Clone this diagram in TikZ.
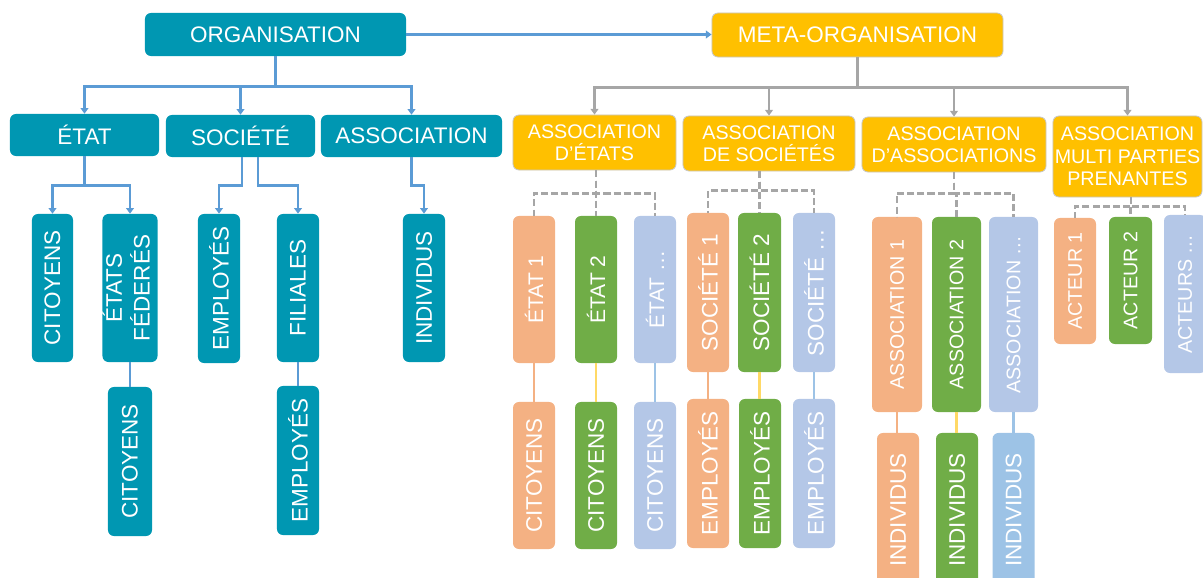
\documentclass[tikz,border=0pt]{standalone}
\usepackage{fontspec}
\setmainfont{Liberation Sans}
\usepackage{graphicx}
\usetikzlibrary{arrows.meta}

\definecolor{orgteal}{RGB}{0,151,178}
\definecolor{metayellow}{RGB}{255,192,0}
\definecolor{metaedge}{RGB}{200,200,200}
\definecolor{bluelink}{RGB}{91,155,213}
\definecolor{greylink}{RGB}{166,166,166}
\definecolor{fillorange}{RGB}{244,177,131}
\definecolor{fillgreen}{RGB}{112,173,71}
\definecolor{filllav}{RGB}{180,199,231}
\definecolor{fillsky}{RGB}{157,195,230}
\definecolor{linkyellow}{RGB}{255,217,102}

\newcommand{\vlabel}[1]{\rotatebox{90}{#1}}

\tikzset{
  box/.style={rounded corners=0.15cm,inner sep=0pt,text=white,align=center},
  orgbox/.style={box,fill=orgteal,font=\fontsize{16}{19}\selectfont},
  metabox/.style={box,fill=metayellow,draw=metaedge,line width=0.6pt,font=\fontsize{14}{16}\selectfont},
  memberbox/.style={box,font=\fontsize{16}{19}\selectfont,minimum width=1.05cm},
  bline/.style={draw=bluelink,line width=1.8pt},
  gline/.style={draw=greylink,line width=1.8pt},
  dline/.style={draw=greylink,line width=1.8pt,dash pattern=on 5pt off 2.2pt},
  tipblue/.style={-{Triangle[width=5.5pt,length=4pt]}},
}

\begin{document}
\begin{tikzpicture}[x=0.025cm,y=-0.025cm]
\useasboundingbox (0,0) rectangle (1203,578);

% organisation
\node(org) at (275.5,34.5)[orgbox,minimum width=6.525cm,minimum height=1.075cm] {ORGANISATION};
\node(etat) at (84.5,135)[orgbox,minimum width=3.725cm,minimum height=1.05cm] {ÉTAT};
\node(soc) at (240.5,136)[orgbox,minimum width=3.725cm,minimum height=1.05cm] {SOCIÉTÉ};
\node(asso) at (411.5,136)[orgbox,minimum width=4.525cm,minimum height=1.05cm] {ASSOCIATION};
\node(cit1) at (52.5,288)[orgbox,minimum width=1.025cm,minimum height=3.7cm] {\vlabel{CITOYENS}};
\node(fed) at (130,288)[orgbox,minimum width=1.35cm,minimum height=3.7cm] {\vlabel{\begin{tabular}{@{}c@{}}ÉTATS\\FÉDERÉS\end{tabular}}};
\node(emp1) at (219,288.5)[orgbox,minimum width=1.05cm,minimum height=3.725cm] {\vlabel{EMPLOYÉS}};
\node(fil) at (298,288)[orgbox,minimum width=1.05cm,minimum height=3.7cm] {\vlabel{FILIALES}};
\node(indiv) at (424,288)[orgbox,minimum width=1.05cm,minimum height=3.7cm] {\vlabel{INDIVIDUS}};
\node(cit2) at (130,461.5)[orgbox,minimum width=1.1cm,minimum height=3.725cm] {\vlabel{CITOYENS}};
\node(emp2) at (298,460.5)[orgbox,minimum width=1.05cm,minimum height=3.725cm] {\vlabel{EMPLOYÉS}};

% meta-organisation
\node(meta) at (857.5,35)[metabox,font=\fontsize{16}{19}\selectfont,minimum width=7.275cm,minimum height=1.1cm] {META-ORGANISATION};
\node(ae) at (594.5,142.5)[metabox,minimum width=4.075cm,minimum height=1.375cm] {ASSOCIATION\\D’ÉTATS};
\node(as) at (769,143.5)[metabox,minimum width=4.3cm,minimum height=1.375cm] {ASSOCIATION\\DE SOCIÉTÉS};
\node(aa) at (954,144.5)[metabox,minimum width=4.6cm,minimum height=1.375cm] {ASSOCIATION\\D’ASSOCIATIONS};
\node(amp) at (1127.5,156.5)[metabox,minimum width=3.725cm,minimum height=2.025cm] {ASSOCIATION\\MULTI PARTIES\\PRENANTES};

\node(e1) at (534,289.5)[memberbox,fill=fillorange,minimum height=3.675cm,font=\fontsize{15}{18}\selectfont] {\vlabel{ÉTAT 1}};
\node(e2) at (596,289.5)[memberbox,fill=fillgreen,minimum height=3.675cm,font=\fontsize{15}{18}\selectfont] {\vlabel{ÉTAT 2}};
\node(e3) at (655,289.5)[memberbox,fill=filllav,minimum height=3.675cm,font=\fontsize{15}{18}\selectfont] {\vlabel{ÉTAT …}};
\node(c1) at (534,475.5)[memberbox,fill=fillorange,minimum height=3.675cm] {\vlabel{CITOYENS}};
\node(c2) at (596,475.5)[memberbox,fill=fillgreen,minimum height=3.675cm] {\vlabel{CITOYENS}};
\node(c3) at (655,475.5)[memberbox,fill=filllav,minimum height=3.675cm] {\vlabel{CITOYENS}};

\node(s1) at (708,292.5)[memberbox,fill=fillorange,minimum height=3.975cm] {\vlabel{SOCIÉTÉ 1}};
\node(s2) at (759.5,292.5)[memberbox,fill=fillgreen,minimum width=1.075cm,minimum height=3.975cm] {\vlabel{SOCIÉTÉ 2}};
\node(s3) at (814,292.5)[memberbox,fill=filllav,minimum height=3.975cm] {\vlabel{SOCIÉTÉ …}};
\node(m1) at (708,473.5)[memberbox,fill=fillorange,minimum height=3.725cm] {\vlabel{EMPLOYÉS}};
\node(m2) at (760,473.5)[memberbox,fill=fillgreen,minimum height=3.725cm] {\vlabel{EMPLOYÉS}};
\node(m3) at (814,473.5)[memberbox,fill=filllav,minimum height=3.725cm] {\vlabel{EMPLOYÉS}};

\node(a1) at (897,314.5)[memberbox,fill=fillorange,minimum width=1.25cm,minimum height=4.875cm,font=\fontsize{14}{17}\selectfont] {\vlabel{ASSOCIATION 1}};
\node(a2) at (956.5,314.5)[memberbox,fill=fillgreen,minimum width=1.225cm,minimum height=4.875cm,font=\fontsize{14}{17}\selectfont] {\vlabel{ASSOCIATION 2}};
\node(a3) at (1013.5,314.5)[memberbox,fill=filllav,minimum width=1.225cm,minimum height=4.875cm,font=\fontsize{14}{17}\selectfont] {\vlabel{ASSOCIATION …}};
\node(i1) at (898,510)[memberbox,fill=fillorange,minimum height=3.85cm] {\vlabel{INDIVIDUS}};
\node(i2) at (957,510)[memberbox,fill=fillgreen,minimum height=3.85cm] {\vlabel{INDIVIDUS}};
\node(i3) at (1013.5,510)[memberbox,fill=fillsky,minimum height=3.85cm] {\vlabel{INDIVIDUS}};

\node(act1) at (1075,281)[memberbox,fill=fillorange,minimum height=3.15cm,font=\fontsize{14}{17}\selectfont] {\vlabel{ACTEUR 1}};
\node(act2) at (1130.5,280.5)[memberbox,fill=fillgreen,minimum width=1.075cm,minimum height=3.175cm,font=\fontsize{14}{17}\selectfont] {\vlabel{ACTEUR 2}};
\node(act3) at (1185,294)[memberbox,fill=filllav,minimum height=3.95cm,font=\fontsize{14}{17}\selectfont] {\vlabel{ACTEURS …}};

% blue links
\draw[bline,tipblue] (org.east) -- (org.east -| meta.west);
\draw[bline,tipblue] (org.south) -- ++(0,30) -| (etat.north);
\draw[bline,tipblue] (org.south) -- ++(0,30) -| (soc.north);
\draw[bline,tipblue] (org.south) -- ++(0,30) -| (asso.north);
\draw[bline,tipblue] (etat.south) -- ++(0,29) -| (cit1.north);
\draw[bline,tipblue] (etat.south) -- ++(0,29) -| (fed.north);
\draw[bline,tipblue] ([xshift=0.04cm]soc.south) -- ++(0,28) -| (emp1.north);
\draw[bline,tipblue] ([xshift=0.44cm]soc.south) -- ++(0,28) -| (fil.north);
\draw[bline,tipblue] (asso.south) -- ++(0,28) -| (indiv.north);
\draw[bline] (fed) -- (cit2);
\draw[bline] (fil) -- (emp2);

% grey links
\draw[gline,tipblue] (meta.south) -- ++(0,30) -| (ae.north);
\draw[gline,tipblue] (meta.south) -- ++(0,30) -| (as.north);
\draw[gline,tipblue] (meta.south) -- ++(0,30) -| (aa.north);
\draw[gline,tipblue] (meta.south) -- ++(0,30) -| (amp.north);

\foreach \kid in {e1,e2,e3}
  \draw[dline] ([xshift=0.04cm]ae.south) -- ++(0,23) -| (\kid.north);
\foreach \kid in {s1,s2,s3}
  \draw[dline] (as.south -| s2.north) -- ++(0,19) -| (\kid.north);
\foreach \kid in {a1,a2,a3}
  \draw[dline] (aa.south) -- ++(0,21) -| (\kid.north);
\foreach \kid in {act1,act2,act3}
  \draw[dline] ([xshift=0.09cm]amp.south) -- ++(0,9) -| (\kid.north);

% member links
\draw[line width=1.6pt,fillorange] (e1) -- (c1);
\draw[line width=1.6pt,linkyellow] (e2) -- (c2);
\draw[line width=1.6pt,fillsky] (e3) -- (c3);
\draw[line width=1.6pt,fillorange] (s1) -- (m1);
\draw[line width=1.6pt,linkyellow] (s2.south) -- (s2.south |- m2.north);
\draw[line width=1.6pt,fillsky] (s3) -- (m3);
\draw[line width=1.6pt,fillorange] (a1.south) -- (a1.south |- i1.north);
\draw[line width=1.6pt,linkyellow] (a2.south) -- (a2.south |- i2.north);
\draw[line width=1.6pt,fillsky] (a3.south) -- (a3.south |- i3.north);

\end{tikzpicture}
\end{document}
